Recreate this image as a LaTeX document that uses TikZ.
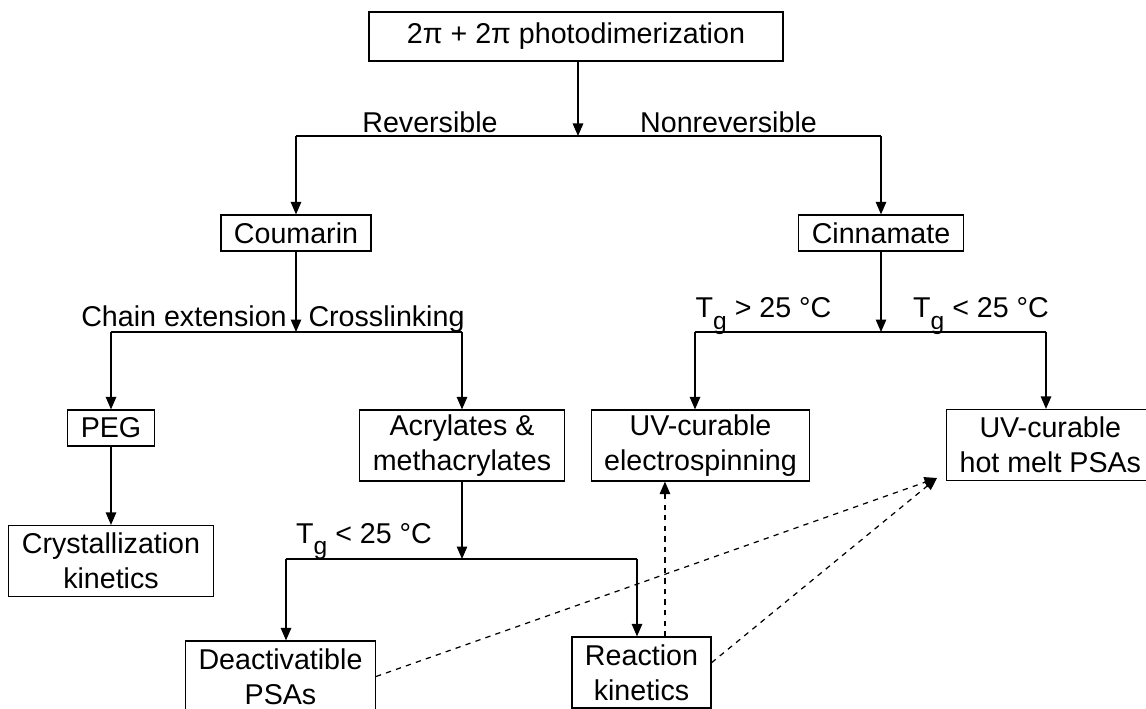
\documentclass[tikz,border=0pt]{standalone}
\usepackage{fontspec}
\setmainfont{Liberation Sans}
\usetikzlibrary{arrows.meta}
\newcommand{\Tg}{T\raisebox{-0.75ex}{\fontsize{14}{14}\selectfont g}}

\begin{document}
\begin{tikzpicture}[x=0.02cm, y=-0.02cm, line width=0.7pt,
  font=\fontsize{16.3}{19.9}\selectfont,
  >={Triangle[length=0.25cm, width=0.21cm]},
  box/.style={draw, rectangle, inner xsep=0.26cm, inner ysep=0pt, minimum height=0.72cm, align=center},
  twobox/.style={box, minimum height=1.42cm},
  lbl/.style={inner sep=0pt, anchor=base}]
\useasboundingbox (0,0) rectangle (1146,709);

\node[box, minimum width=8.28cm, minimum height=0.98cm] (top) at (576,36.5) {2π + 2π photodimerization};
\node[box] (coum) at (296,233) {Coumarin};
\node[box] (cinn) at (881,233) {Cinnamate};
\node[box] (peg) at (111,428) {PEG};
\node[twobox] (acryl) at (462,445.5) {Acrylates \&\\methacrylates};
\node[twobox] (cryst) at (111,561) {Crystallization\\kinetics};
\node[twobox] (deact) at (280.5,676.5) {Deactivatible\\PSAs};
\node[twobox] (react) at (641.5,672.5) {Reaction\\kinetics};
\node[twobox] (elec) at (700.5,445.5) {UV-curable\\electrospinning};
\node[twobox, anchor=west] (melt) at (946,445) {UV-curable\\hot melt PSAs};

\node[lbl] (rev) at (430,133) {Reversible};
\node[lbl] (nonrev) at (728.5,133) {Nonreversible};
\node[lbl] (chain) at (184,327) {Chain extension};
\node[lbl] (cross) at (386.5,327) {Crosslinking};
\node[lbl] (tglow) at (364,543) {\Tg{} < 25 °C};
\node[lbl] (tghigh) at (763.5,318) {\Tg{} > 25 °C};
\node[lbl] (tglow2) at (981,318) {\Tg{} < 25 °C};

\coordinate (j1) at (578,136);
\coordinate (j2) at (296,332);
\coordinate (j3) at (462,559);
\coordinate (j3a) at (286,559);
\coordinate (j3b) at (637,559);
\coordinate (j4) at (881,332);
\coordinate (j4a) at (695,332);
\coordinate (j4b) at (1046,332);
\coordinate (meltin) at (937,478);

\draw[->] (top.south -| j1) -- (j1);
\draw (coum |- j1) -- (cinn |- j1);
\draw[->] (coum |- j1) -- (coum);
\draw[->] (cinn |- j1) -- (cinn);

\draw[->] (coum) -- (j2);
\draw (peg |- j2) -- (acryl |- j2);
\draw[->] (peg |- j2) -- (peg);
\draw[->] (acryl |- j2) -- (acryl);
\draw[->] (peg) -- (cryst);

\draw[->] (acryl) -- (j3);
\draw (j3a) -- (j3b);
\draw[->] (j3a) -- (j3a |- deact.north);
\draw[->] (j3b) -- (j3b |- react.north);

\draw[->] (cinn) -- (j4);
\draw (j4a) -- (j4b);
\draw[->] (j4a) -- (j4a |- elec.north);
\draw[->] (j4b) -- (j4b |- melt.north);

\draw[dashed, ->] (react.57) -- (react.57 |- elec.south);
\draw[dashed, ->] (deact.east) -- (meltin);
\draw[dashed, ->] (react.8) -- (meltin);
\end{tikzpicture}
\end{document}
